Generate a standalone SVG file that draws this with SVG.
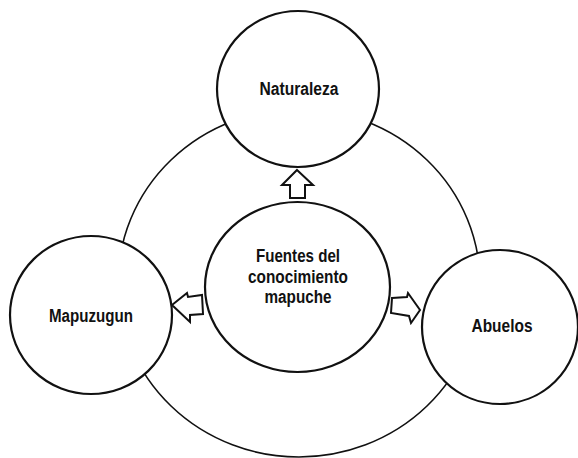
<svg xmlns="http://www.w3.org/2000/svg" width="578" height="458" viewBox="0 0 578 458">
<style>
.ring{fill:none;stroke:#111;stroke-width:1.6}
.node{fill:#fff;stroke:#111;stroke-width:2.2}
.arrow{fill:#fff;stroke:#111;stroke-width:2;stroke-linejoin:miter}
.lbl{font-family:"Liberation Sans Narrow","Liberation Sans",Arial,sans-serif;font-weight:bold;font-size:18px;fill:#111;text-anchor:middle}
</style>
<rect width="578" height="458" fill="#fff"/>
<g id="connectors">
<ellipse class="ring" cx="299" cy="283" rx="181" ry="174"/>
<polygon class="arrow" points="297,170 313,185 305,185 305,198 290,198 290,185 282,185"/>
<polygon class="arrow" points="172,305 187,293 188,297 202,295 203,314 190,315 190,322"/>
<polygon class="arrow" points="392,298 407,297 408,293 420,310 411,323 409,316 391,313"/>
</g>
<g id="naturaleza">
<ellipse class="node" cx="298" cy="89" rx="81" ry="78"/>
<text class="lbl" x="299" y="95" textLength="79" lengthAdjust="spacingAndGlyphs">Naturaleza</text>
</g>
<g id="mapuzugun">
<ellipse class="node" cx="91" cy="315" rx="81" ry="79"/>
<text class="lbl" x="91" y="322" textLength="84" lengthAdjust="spacingAndGlyphs">Mapuzugun</text>
</g>
<g id="abuelos">
<ellipse class="node" cx="500" cy="327" rx="78" ry="77"/>
<text class="lbl" x="502" y="332" textLength="61" lengthAdjust="spacingAndGlyphs">Abuelos</text>
</g>
<g id="fuentes">
<ellipse class="node" cx="297.5" cy="287" rx="92.5" ry="85"/>
<text class="lbl" x="298" y="262" textLength="84" lengthAdjust="spacingAndGlyphs">Fuentes del</text>
<text class="lbl" x="298" y="283" textLength="100" lengthAdjust="spacingAndGlyphs">conocimiento</text>
<text class="lbl" x="298" y="303" textLength="67" lengthAdjust="spacingAndGlyphs">mapuche</text>
</g>
</svg>
